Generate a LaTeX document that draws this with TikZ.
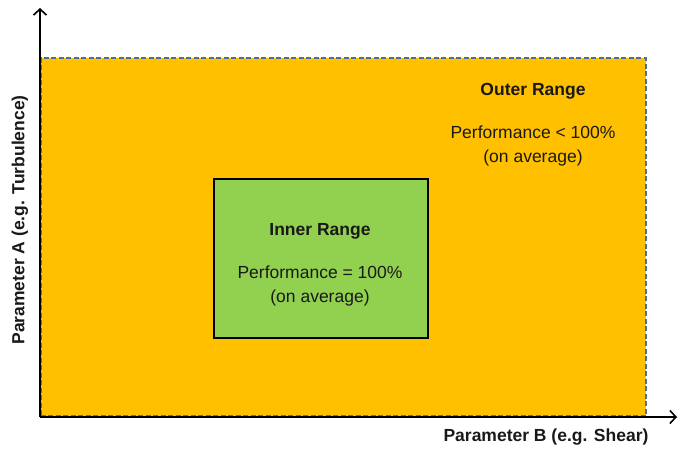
\documentclass[tikz,border=0pt]{standalone}
\usepackage{fontspec}
\setmainfont{Liberation Sans}
\usetikzlibrary{arrows.meta}
\definecolor{outerfill}{HTML}{FFC000}
\definecolor{outerline}{HTML}{4A6F9C}
\definecolor{innerfill}{HTML}{92D050}
\tikzset{
  outerbox/.style={draw=outerline, fill=outerfill, line width=1.8pt, dash pattern=on 5pt off 2.5pt, anchor=south west, inner sep=0pt},
  innerbox/.style={draw=black, fill=innerfill, line width=1.8pt, anchor=south west, inner sep=0pt},
  axis/.style={draw=black, line width=1.6pt, -{Straight Barb[length=6pt,width=13pt,line width=1.6pt]}},
  txt/.style={font=\fontsize{17.5}{23.5}\selectfont, text=black!90, align=center, inner sep=0pt},
  btxt/.style={txt, font=\fontsize{17.5}{23.5}\selectfont\bfseries},
}
\begin{document}
\begin{tikzpicture}[x=1pt,y=1pt]
\useasboundingbox (0,0) rectangle (680,448);
\node[outerbox, minimum width=605pt, minimum height=358pt] (outer) at (40,31) {};
\node[innerbox, minimum width=214pt, minimum height=159pt] (inner) at (213,109) {};
\coordinate (origin) at (40,31);
\coordinate (ytip) at (40,440);
\coordinate (xtip) at (677,31);
\draw[axis] (origin) -- (ytip);
\draw[axis] (origin) -- (xtip);
\node[btxt] (outertitle) at (533,357) {Outer Range};
\node[txt] (outerbody) at (533,302) {Performance {<} 100\%\\(on average)};
\node[btxt] (innertitle) at (320,217) {Inner Range};
\node[txt] (innerbody) at (320,162) {Performance = 100\%\\(on average)};
\node[btxt, rotate=90] (ylabel) at (20,228) {Parameter A (e.g. Turbulence)};
\node[btxt] (xlabel) at (546,11) {Parameter B (e.g. Shear)};
\end{tikzpicture}
\end{document}
